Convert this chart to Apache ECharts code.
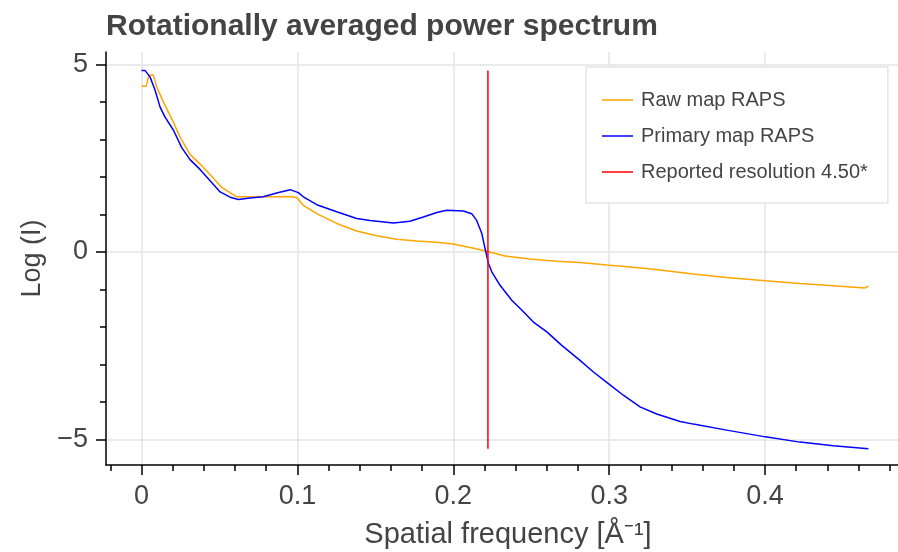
<!DOCTYPE html>
<html>
<head>
<meta charset="utf-8">
<script src="https://cdn.jsdelivr.net/npm/echarts@6/dist/echarts.min.js"></script>
<style>
  html, body { margin: 0; padding: 0; background: #fff; }
  #chart { width: 898px; height: 552px; }
</style>
</head>
<body>
<div id="chart"></div>
<script>
// ---- data ----
const rawX = [0, 0.0029, 0.0048, 0.0076, 0.0097, 0.014, 0.0204, 0.0247, 0.0311, 0.0386, 0.045, 0.0514, 0.0611, 0.0696, 0.0824, 0.0953, 0.0996, 0.1038, 0.1124, 0.1252, 0.138, 0.1509, 0.1637, 0.1766, 0.1894, 0.2, 0.2108, 0.2215, 0.2332, 0.2492, 0.2664, 0.2813, 0.2984, 0.3134, 0.3283, 0.354, 0.3754, 0.4002, 0.4224, 0.4438, 0.4642, 0.4663];
const rawY = [4.42, 4.42, 4.72, 4.72, 4.40, 4.0, 3.46, 3.06, 2.6, 2.3, 2.02, 1.72, 1.47, 1.47, 1.47, 1.48, 1.45, 1.24, 1.02, 0.76, 0.56, 0.43, 0.34, 0.29, 0.26, 0.21, 0.12, 0.02, -0.11, -0.19, -0.25, -0.28, -0.35, -0.40, -0.46, -0.59, -0.68, -0.77, -0.84, -0.90, -0.96, -0.91];

const primaryX = [0, 0.0022, 0.0055, 0.0087, 0.0119, 0.015, 0.0204, 0.0258, 0.0311, 0.0375, 0.044, 0.0504, 0.0568, 0.0621, 0.0696, 0.0781, 0.0867, 0.0953, 0.1006, 0.1038, 0.1124, 0.1252, 0.138, 0.1466, 0.1616, 0.1722, 0.1808, 0.1894, 0.1958, 0.2065, 0.2118, 0.215, 0.2183, 0.2204, 0.2225, 0.2247, 0.23, 0.2375, 0.2439, 0.2514, 0.26, 0.2696, 0.2813, 0.2899, 0.2995, 0.3091, 0.3198, 0.3305, 0.3455, 0.354, 0.3754, 0.4002, 0.4224, 0.4438, 0.4663];
const primaryY = [4.84, 4.84, 4.66, 4.31, 3.86, 3.6, 3.25, 2.78, 2.46, 2.2, 1.9, 1.6, 1.46, 1.40, 1.44, 1.47, 1.57, 1.66, 1.58, 1.47, 1.26, 1.07, 0.89, 0.84, 0.77, 0.82, 0.93, 1.05, 1.11, 1.09, 1.02, 0.84, 0.49, 0.09, -0.30, -0.53, -0.89, -1.29, -1.55, -1.87, -2.13, -2.49, -2.89, -3.20, -3.51, -3.82, -4.13, -4.32, -4.52, -4.59, -4.75, -4.93, -5.07, -5.17, -5.25];

const reportedResolution = 4.50;
const seriesNames = ['Raw map RAPS', 'Primary map RAPS', 'Reported resolution 4.50*'];

const xMajorTicks = [0, 0.1, 0.2, 0.3, 0.4];
const xMinorTicks = [-0.02, 0, 0.02, 0.04, 0.06, 0.08, 0.1, 0.12, 0.14, 0.16, 0.18, 0.2, 0.22, 0.24, 0.26, 0.28, 0.3, 0.32, 0.34, 0.36, 0.38, 0.4, 0.42, 0.44, 0.46, 0.48];
const yMajorTicks = [-5, 0, 5];
const yMinorTicks = [-5, -4, -3, -2, -1, 0, 1, 2, 3, 4, 5];

// ---- build ----
const zip = (xs, ys) => xs.map((x, i) => [x, ys[i]]);
const allY = rawY.concat(primaryY);
const yMax = Math.max(...allY), yMin = Math.min(...allY);
const resFreq = 1 / reportedResolution;

const FONT = '"Liberation Sans", Arial, Helvetica, sans-serif';
const TXT = '#444444';
const GRID = '#e5e5e5';

const fmt = v => {
  let s = (Math.abs(v) < 1e-9) ? '0' : String(+v.toFixed(3));
  return s.replace('-', '\u2212');
};

const chart = echarts.init(document.getElementById('chart'), null, { renderer: 'canvas' });

const baseAxis = {
  type: 'value',
  min: -0.0228,
  max: 0.4853,
  gridIndex: 0
};

chart.setOption({
  animation: false,
  backgroundColor: '#ffffff',
  title: {
    text: 'Rotationally averaged power spectrum',
    left: 106,
    top: 12,
    padding: 0,
    textStyle: { fontFamily: FONT, fontSize: 30, fontWeight: 'bold', color: TXT }
  },
  legend: {
    orient: 'vertical',
    left: 586,
    top: 67,
    padding: [23, 20, 21, 16],
    itemGap: 16,
    itemWidth: 31,
    itemHeight: 1.5,
    icon: 'rect',
    backgroundColor: '#ffffff',
    borderColor: GRID,
    borderWidth: 1.5,
    borderRadius: 0,
    data: seriesNames,
    textStyle: { fontFamily: FONT, fontSize: 20, color: TXT, padding: [0, 0, 0, 3] }
  },
  grid: {
    left: 106,
    top: 52,
    right: 0,
    bottom: 87,
    containLabel: false,
    outerBoundsMode: 'none'
  },
  xAxis: [
    Object.assign({}, baseAxis, {
      position: 'bottom',
      name: 'Spatial frequency [Å\u207B\u00B9]',
      nameLocation: 'middle',
      nameGap: 55,
      nameTextStyle: { fontFamily: FONT, fontSize: 29, color: TXT, padding: [0, 0, 0, 12] },
      axisLine: { show: true, onZero: false, lineStyle: { color: '#000', width: 1.5 } },
      axisTick: { show: true, customValues: xMajorTicks, length: 10, lineStyle: { color: '#000', width: 1.5 } },
      axisLabel: { show: true, customValues: xMajorTicks, margin: 18, formatter: fmt, fontFamily: FONT, fontSize: 27, color: TXT },
      splitLine: { show: true, lineStyle: { color: GRID, width: 1.5 } }
    }),
    Object.assign({}, baseAxis, {
      position: 'bottom',
      axisLine: { show: false, onZero: false },
      axisTick: { show: true, customValues: xMinorTicks, length: 6, lineStyle: { color: '#000', width: 1.5 } },
      axisLabel: { show: false },
      splitLine: { show: false }
    })
  ],
  yAxis: [
    {
      type: 'value', min: -5.68, max: 5.33, gridIndex: 0, position: 'left',
      name: 'Log (I)',
      nameLocation: 'middle',
      nameGap: 55,
      nameTextStyle: { fontFamily: FONT, fontSize: 27, color: TXT },
      axisLine: { show: true, onZero: false, lineStyle: { color: '#000', width: 1.5 } },
      axisTick: { show: true, customValues: yMajorTicks, length: 10, lineStyle: { color: '#000', width: 1.5 } },
      axisLabel: { show: true, customValues: yMajorTicks, margin: 18, formatter: fmt, fontFamily: FONT, fontSize: 27, color: TXT },
      splitLine: { show: true, lineStyle: { color: GRID, width: 1.5 } }
    },
    {
      type: 'value', min: -5.68, max: 5.33, gridIndex: 0, position: 'left',
      axisLine: { show: false, onZero: false },
      axisTick: { show: true, customValues: yMinorTicks, length: 6, lineStyle: { color: '#000', width: 1.5 } },
      axisLabel: { show: false },
      splitLine: { show: false }
    }
  ],
  series: [
    {
      name: seriesNames[0], type: 'line', xAxisIndex: 0, yAxisIndex: 0,
      data: zip(rawX, rawY), symbol: 'none', showSymbol: false,
      lineStyle: { color: '#FFA500', width: 1.5 }, itemStyle: { color: '#FFA500' }, z: 3
    },
    {
      name: seriesNames[1], type: 'line', xAxisIndex: 0, yAxisIndex: 0,
      data: zip(primaryX, primaryY), symbol: 'none', showSymbol: false,
      lineStyle: { color: '#0000FF', width: 1.5 }, itemStyle: { color: '#0000FF' }, z: 4
    },
    {
      name: seriesNames[2], type: 'line', xAxisIndex: 0, yAxisIndex: 0,
      data: [[resFreq, yMax], [resFreq, yMin]], symbol: 'none', showSymbol: false,
      lineStyle: { color: '#FF0000', width: 1.5 }, itemStyle: { color: '#FF0000' }, z: 5
    }
  ]
});
</script>
</body>
</html>
